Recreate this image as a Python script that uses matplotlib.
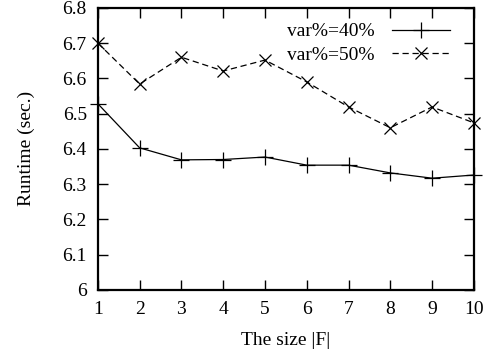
import numpy as np
import matplotlib.pyplot as plt

plt.rcParams['font.family'] = ['Liberation Serif', 'DejaVu Serif']

sizes = list(range(1, 11))
runtime_40 = [6.528, 6.403, 6.369, 6.370, 6.377, 6.354, 6.354, 6.332, 6.317, 6.326]
runtime_50 = [6.700, 6.584, 6.660, 6.621, 6.652, 6.590, 6.519, 6.460, 6.519, 6.474]
labels = ['var%=40%', 'var%=50%']

fig = plt.figure(figsize=(4.87, 3.58), dpi=100)
ax = fig.add_axes([0.201, 0.190, 0.772, 0.788])

ax.plot(sizes, runtime_40, color='black', linestyle='-', linewidth=0.9,
        marker='+', markersize=11, markeredgewidth=0.9, label=labels[0], clip_on=False)
ax.plot(sizes, runtime_50, color='black', linestyle=(0, (5, 3)), linewidth=0.9,
        marker='x', markersize=8, markeredgewidth=0.9, label=labels[1], clip_on=False)

ax.set_xlim(1, 10)
ax.set_ylim(6, 6.8)
ax.set_xticks(sizes)
ax.set_yticks(np.arange(6, 6.81, 0.1))
ax.set_yticklabels(['6', '6.1', '6.2', '6.3', '6.4', '6.5', '6.6', '6.7', '6.8'])

ax.tick_params(direction='in', length=7.2, width=1, top=True, right=True,
               labelsize=14, pad=8)
for s in ax.spines.values():
    s.set_linewidth(1.6)

ax.set_xlabel('The size |F|', fontsize=14, labelpad=10)
ax.set_ylabel('Runtime (sec.)', fontsize=14, labelpad=20)

ax.legend(loc='upper right', frameon=False, markerfirst=False, fontsize=14,
          handlelength=3.0, borderaxespad=0.0, labelspacing=0.3,
          handletextpad=0.9, bbox_to_anchor=(0.958, 0.975))

fig.savefig('out.png', dpi=100)
